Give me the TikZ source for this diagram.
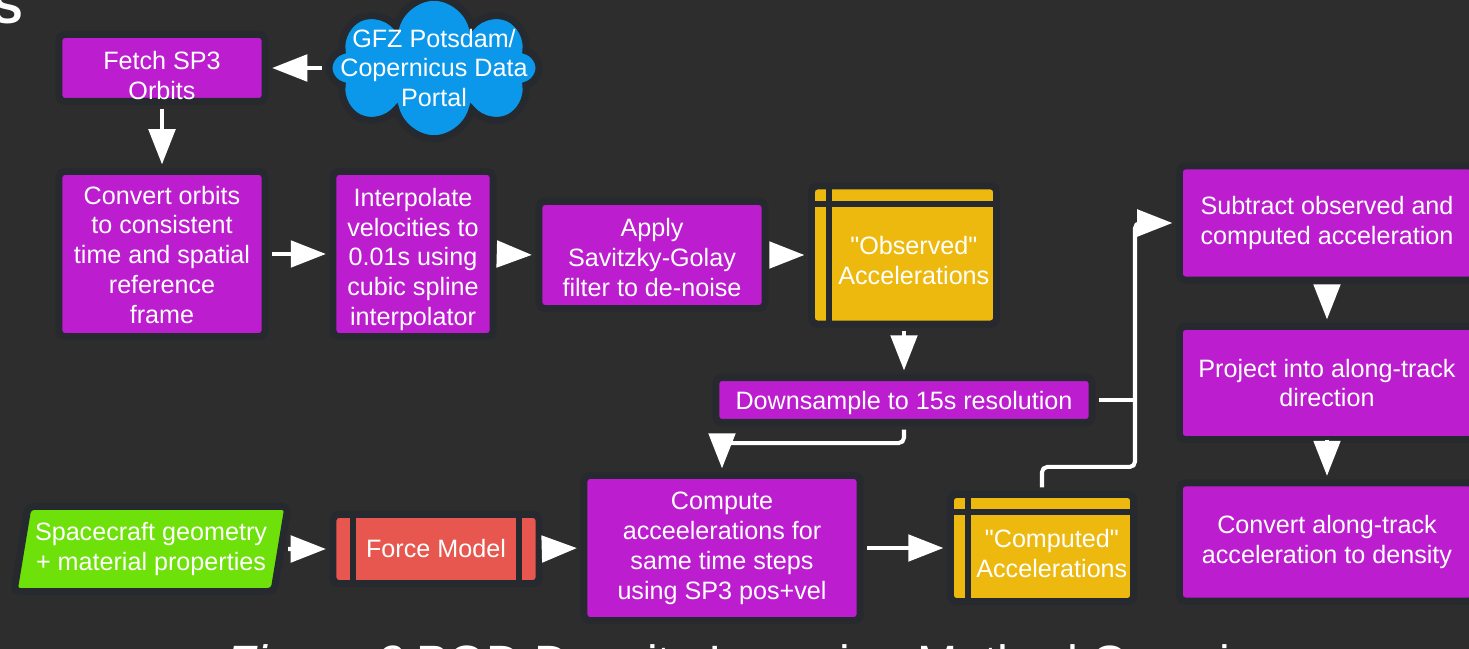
\documentclass[tikz,border=0pt]{standalone}
\usepackage{fontspec}
\setmainfont{Liberation Sans}
\usetikzlibrary{arrows.meta}
\usetikzlibrary{shapes.symbols,shapes.geometric}

\definecolor{bgdark}{HTML}{2D2D2D}
\definecolor{boxedge}{HTML}{26292D}
\definecolor{procpurple}{HTML}{BC1ECF}
\definecolor{datayellow}{HTML}{EEB90E}
\definecolor{modelred}{HTML}{E8574F}
\definecolor{inputgreen}{HTML}{6EE00A}
\definecolor{cloudblue}{HTML}{0B97EA}

% move the lines of a box a little right / down, keeping the box size
\newcommand{\textnudge}[3]{\hspace*{#1}\raisebox{-#2}[\height][\depth]{\begin{tabular}{@{}c@{}}#3\end{tabular}}}

\begin{document}
\begin{tikzpicture}[x=0.01cm, y=-0.01cm,
  box/.style={draw=boxedge, line width=2pt, text=white, align=center,
    font=\fontsize{7.15}{8.5}\selectfont, inner sep=0pt},
  proc/.style={box, rounded corners=1.5pt, fill=procpurple},
  datastore/.style={box, rounded corners=1.5pt, fill=datayellow,
    path picture={
      \draw[boxedge, line width=1.7pt]
        ([yshift=-0.18cm]path picture bounding box.north west) --
        ([yshift=-0.18cm]path picture bounding box.north east);
      \draw[boxedge, line width=1.7pt]
        ([xshift=0.18cm]path picture bounding box.north west) --
        ([xshift=0.18cm]path picture bounding box.south west);
    }},
  model/.style={box, rounded corners=1.5pt, fill=modelred,
    path picture={
      \draw[boxedge, line width=1.7pt]
        ([xshift=0.2cm]path picture bounding box.north west) --
        ([xshift=0.2cm]path picture bounding box.south west);
      \draw[boxedge, line width=1.7pt]
        ([xshift=-0.2cm]path picture bounding box.north east) --
        ([xshift=-0.2cm]path picture bounding box.south east);
    }},
  source/.style={box, cloud, cloud puffs=8, aspect=1.8, fill=cloudblue},
  input/.style={box, rounded corners=1.5pt, fill=inputgreen, trapezium,
    trapezium left angle=76, trapezium right angle=104, trapezium stretches=true},
  flow/.style={draw=white, line width=1.15pt, rounded corners=1.5pt,
    -{Triangle[length=10pt,width=7.5pt]}, shorten <=1pt, shorten >=1pt},
  flowline/.style={draw=white, line width=1.15pt, shorten <=1pt},
]

% page and background
\useasboundingbox (0,0) rectangle (1469,649);
\clip (0,0) rectangle (1469,649);
\fill[bgdark] (0,0) rectangle (1469,649);

% cut-off heading and caption
\node[text=white, inner sep=0pt, anchor=base east, font=\fontsize{13}{15}\selectfont\bfseries] (head) at (24,24) {S};
\node[text=white, inner sep=0pt, anchor=base west, font=\fontsize{13.7}{16}\selectfont] (cap) at (226,680) {\textit{Figure 3} POD Density Inversion Method Overview};

% orbit branch
\node[proc, minimum width=2.06cm, minimum height=0.67cm] (fetch) at (162,68) {\textnudge{0pt}{3pt}{Fetch SP3\\Orbits}};
\node[source, minimum width=2.1cm, minimum height=1.15cm, inner xsep=-9pt, inner ysep=-4pt] (gfz) at (434,68) {GFZ Potsdam/\\Copernicus Data\\Portal};
\node[proc, minimum width=2.06cm, minimum height=1.65cm] (conv) at (162,254) {\textnudge{0pt}{1.1pt}{Convert orbits\\to consistent\\time and spatial\\reference\\frame}};
\node[proc, minimum width=1.60cm, minimum height=1.65cm] (interp) at (413,254) {\textnudge{0pt}{1.7pt}{Interpolate\\velocities to\\0.01s using\\cubic spline\\interpolator}};
\node[proc, minimum width=2.26cm, minimum height=1.07cm] (apply) at (652,255) {\textnudge{0pt}{1.5pt}{Apply\\Savitzky-Golay\\filter to de-noise}};
\node[datastore, minimum width=1.85cm, minimum height=1.38cm] (obs) at (904,255)
  {\textnudge{5.6pt}{2.3pt}{\textquotedbl Observed\textquotedbl\\Accelerations}};
\node[proc, minimum width=3.76cm, minimum height=0.45cm] (ds) at (904,400) {\textnudge{0pt}{1.1pt}{Downsample to 15s resolution}};

% model branch
\node[input, minimum width=2.74cm, minimum height=0.85cm] (craft) at (151,549) {Spacecraft geometry\\+ material properties};
\node[model, minimum width=2.06cm, minimum height=0.69cm] (force) at (436,549) {Force Model};
\node[proc, minimum width=2.76cm, minimum height=1.45cm] (comp) at (722,548) {Compute\\acceelerations for\\same time steps\\using SP3 pos+vel};
\node[datastore, minimum width=1.83cm, minimum height=1.07cm] (comb) at (1042,548)
  {\textnudge{5.6pt}{2.3pt}{\textquotedbl Computed\textquotedbl\\Accelerations}};

% density column
\node[proc, minimum width=2.95cm, minimum height=1.14cm] (sub) at (1327,223) {Subtract observed and\\computed acceleration};
\node[proc, minimum width=2.95cm, minimum height=1.13cm] (proj) at (1327,383) {Project into along-track\\direction};
\node[proc, minimum width=2.95cm, minimum height=1.18cm] (dens) at (1327,542) {Convert along-track\\acceleration to density};

% connectors
\coordinate (merge) at (1135,400);
\draw[flow] (gfz.west) -- (fetch.east);
\draw[flow] (fetch.south) -- (conv.north);
\draw[flow] (conv.east) -- (interp.west);
\draw[flow] (interp.east) -- (apply.west);
\draw[flow] (apply.east) -- (obs.west);
\draw[flow] (obs.south) -- (ds.north);
\draw[flow] (ds.south) -- ++(0,17) -| (comp.north);
\draw[flow] (craft.east) -- (force.west);
\draw[flow] (force.east) -- (comp.west);
\draw[flow] (comp.east) -- (comb.west);
\draw[flowline] (ds.east) -- (merge);
\draw[flow] (comb.north) -- ++(0,-24) -| (merge) |- (sub.west);
\draw[flow] (sub.south) -- (proj.north);
\draw[flow] (proj.south) -- (dens.north);

\end{tikzpicture}
\end{document}
